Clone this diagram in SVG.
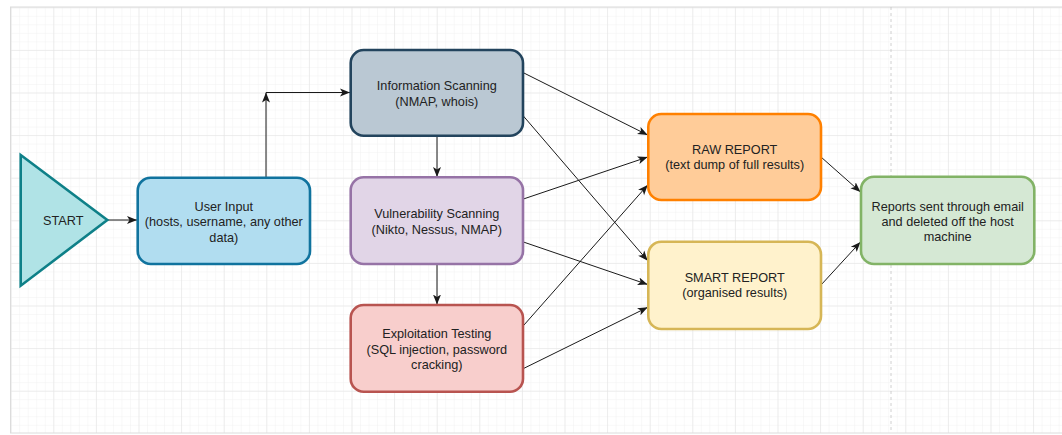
<svg xmlns="http://www.w3.org/2000/svg" width="1062" height="435" viewBox="0 0 1062 435">
<style>
.node{stroke-width:2.6}
.lbl{font-family:"Liberation Sans",Arial,Helvetica,sans-serif;font-size:12.7px;fill:#222;text-anchor:middle}
.edge{fill:none;stroke:#1a1a1a;stroke-width:1}
</style>
<defs>
<pattern id="minor" patternUnits="userSpaceOnUse" x="10.7" y="7.3" width="8.52" height="8.52">
<path d="M0,0 H8.52 M0,0 V8.52" fill="none" stroke="#f1f1f1" stroke-width="1"/>
</pattern>
<pattern id="major" patternUnits="userSpaceOnUse" x="10.7" y="7.3" width="42.6" height="42.6">
<path d="M0,0 H42.6 M0,0 V42.6" fill="none" stroke="#e2e2e2" stroke-width="1"/>
</pattern>
<marker id="arr" markerUnits="userSpaceOnUse" viewBox="0 0 10 10" refX="10" refY="5" markerWidth="10" markerHeight="10" orient="auto">
<path d="M0,1 L10,5 L0,9 L2.5,5 z" fill="#1a1a1a"/>
</marker>
</defs>
<rect x="0" y="0" width="1062" height="435" fill="#ffffff"/>
<rect x="10.5" y="7" width="1052" height="426" fill="url(#minor)"/>
<rect x="10.5" y="7" width="1052" height="426" fill="url(#major)"/>
<rect x="10.5" y="7" width="1060" height="426" fill="none" stroke="#dcdcdc" stroke-width="1"/>
<line x1="891" y1="7" x2="891" y2="433" stroke="#c4c4c4" stroke-width="0.8" stroke-dasharray="3,3"/>

<g id="connectors">
<line class="edge" x1="107.5" y1="220" x2="137" y2="220" marker-end="url(#arr)"/>
<line class="edge" x1="266" y1="177" x2="266" y2="92.5" marker-end="url(#arr)"/>
<line class="edge" x1="266" y1="92.5" x2="350" y2="92.5" marker-end="url(#arr)"/>
<line class="edge" x1="437" y1="136" x2="437" y2="177" marker-end="url(#arr)"/>
<line class="edge" x1="437" y1="264.5" x2="437" y2="304.5" marker-end="url(#arr)"/>
<line class="edge" x1="522.5" y1="72.3" x2="647.7" y2="135" marker-end="url(#arr)"/>
<line class="edge" x1="522.5" y1="115" x2="647.7" y2="260.7" marker-end="url(#arr)"/>
<line class="edge" x1="522.5" y1="199.3" x2="647.7" y2="157" marker-end="url(#arr)"/>
<line class="edge" x1="522.5" y1="241.7" x2="647.7" y2="284.5" marker-end="url(#arr)"/>
<line class="edge" x1="522.5" y1="326.7" x2="647.7" y2="185" marker-end="url(#arr)"/>
<line class="edge" x1="522.5" y1="369" x2="647.7" y2="307.3" marker-end="url(#arr)"/>
<line class="edge" x1="821" y1="157" x2="860.5" y2="192" marker-end="url(#arr)"/>
<line class="edge" x1="821" y1="285" x2="860.5" y2="242" marker-end="url(#arr)"/>
</g>

<g id="start">
<polygon class="node" points="20.7,155 107.3,220 20.7,285.7" fill="#b0e3e6" stroke="#0e8088"/>
<text class="lbl" x="63.3" y="224.5">START</text>
</g>
<g id="user-input">
<rect class="node" x="137.7" y="177.7" width="172.3" height="86.3" rx="13" fill="#b1ddf0" stroke="#10739e"/>
<text class="lbl" x="223.8" y="211.2">User Input</text>
<text class="lbl" x="223.8" y="226.2">(hosts, username, any other</text>
<text class="lbl" x="223.8" y="241.7">data)</text>
</g>
<g id="info-scanning">
<rect class="node" x="350.7" y="50" width="172.3" height="85.7" rx="13" fill="#bac8d3" stroke="#23445d"/>
<text class="lbl" x="436.8" y="90.2">Information Scanning</text>
<text class="lbl" x="436.8" y="105.5">(NMAP, whois)</text>
</g>
<g id="vuln-scanning">
<rect class="node" x="350.7" y="177.3" width="172.3" height="86.7" rx="13" fill="#e1d5e7" stroke="#9673a6"/>
<text class="lbl" x="436.8" y="217.8">Vulnerability Scanning</text>
<text class="lbl" x="436.8" y="233.5">(Nikto, Nessus, NMAP)</text>
</g>
<g id="exploitation">
<rect class="node" x="350.7" y="305" width="172.3" height="86.7" rx="13" fill="#f8cecc" stroke="#b85450"/>
<text class="lbl" x="436.8" y="337.8">Exploitation Testing</text>
<text class="lbl" x="436.8" y="353.5">(SQL injection, password</text>
<text class="lbl" x="436.8" y="368.5">cracking)</text>
</g>
<g id="raw-report">
<rect class="node" x="648.3" y="114" width="172.7" height="86" rx="13" fill="#ffcc99" stroke="#ff8000"/>
<text class="lbl" x="734.7" y="153.8">RAW REPORT</text>
<text class="lbl" x="734.7" y="168.8">(text dump of full results)</text>
</g>
<g id="smart-report">
<rect class="node" x="648.3" y="241.7" width="172.7" height="87.3" rx="13" fill="#fff2cc" stroke="#d6b656"/>
<text class="lbl" x="734.7" y="282.2">SMART REPORT</text>
<text class="lbl" x="734.7" y="296.8">(organised results)</text>
</g>
<g id="reports-sent">
<rect class="node" x="861" y="176.7" width="173.3" height="87.3" rx="13" fill="#d5e8d4" stroke="#82b366"/>
<text class="lbl" x="947.7" y="211.2">Reports sent through email</text>
<text class="lbl" x="947.7" y="226.2">and deleted off the host</text>
<text class="lbl" x="947.7" y="240.5">machine</text>
</g>
</svg>
